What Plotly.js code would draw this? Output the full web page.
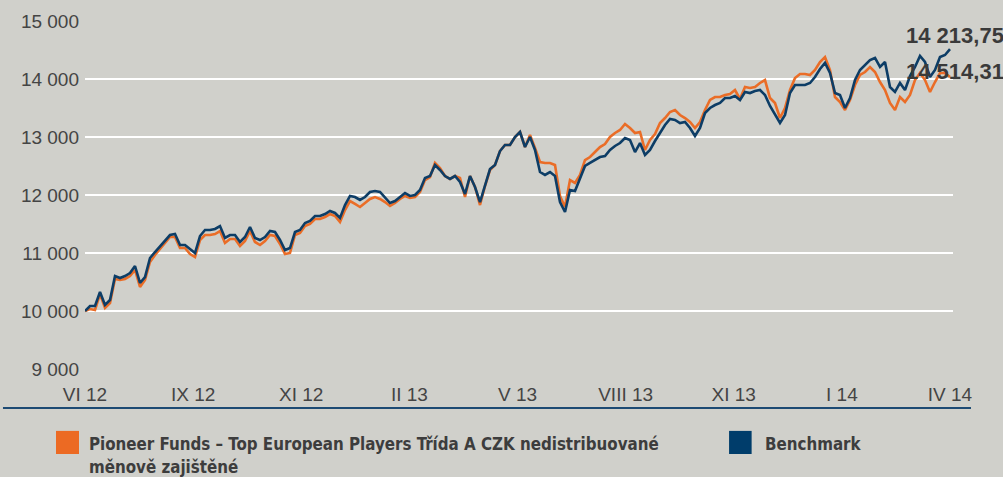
<!DOCTYPE html>
<html>
<head>
<meta charset="utf-8">
<script src="https://cdn.plot.ly/plotly-3.0.1.min.js"></script>
<style>
html,body{margin:0;padding:0;background:#d0d0cb;}
#chart{width:1003px;height:477px;}
</style>
</head>
<body>
<div id="chart"></div>
<script>
// Fund (orange) and benchmark (blue) values, sampled evenly over the period
const fundValues = [
10000,10034,10017,10293,10052,10138,10552,10534,10552,10603,
10707,10414,10534,10845,10965,11069,11172,11276,11276,11086,
11086,10983,10931,11224,11310,11310,11327,11379,11172,11241,
11241,11121,11207,11379,11190,11138,11207,11310,11293,11155,
10983,11000,11310,11345,11465,11500,11586,11586,11621,11672,
11638,11534,11741,11896,11845,11793,11862,11931,11965,11931,
11879,11810,11862,11931,11983,11948,11965,12052,12258,12310,
12552,12465,12327,12276,12327,12293,11965,12327,12138,11827,
12155,12431,12517,12758,12862,12862,13000,13086,12827,13034,
12810,12569,12552,12552,12517,11983,11793,12258,12207,12345,
12603,12655,12741,12827,12879,13000,13069,13121,13224,13155,
13069,13086,12776,12948,13051,13241,13327,13431,13465,13379,
13327,13258,13155,13258,13465,13638,13689,13689,13724,13741,
13810,13655,13862,13845,13862,13931,13982,13672,13586,13327,
13500,13810,14017,14086,14086,14069,14155,14293,14379,14155,
13689,13603,13465,13638,13896,14069,14120,14207,14120,13948,
13810,13586,13465,13689,13603,13724,13982,14103,13982,13776,
13948,14103,14103,14034
];
const benchmarkValues = [
10000,10086,10086,10328,10103,10190,10603,10569,10603,10655,
10776,10483,10586,10914,11017,11121,11224,11310,11327,11138,
11138,11069,11000,11293,11396,11396,11414,11465,11259,11310,
11310,11190,11276,11448,11259,11224,11276,11379,11362,11224,
11052,11086,11362,11396,11517,11552,11638,11638,11672,11724,
11690,11603,11827,11983,11965,11914,11965,12052,12069,12052,
11948,11862,11896,11965,12034,11983,12000,12086,12293,12327,
12517,12431,12327,12276,12327,12224,12017,12327,12138,11879,
12172,12448,12517,12758,12862,12862,13000,13086,12827,13000,
12776,12396,12345,12396,12327,11879,11707,12086,12069,12293,
12500,12552,12603,12655,12672,12776,12845,12896,12983,12948,
12741,12896,12690,12776,12931,13069,13207,13310,13293,13241,
13258,13155,13017,13155,13414,13500,13551,13586,13672,13672,
13707,13638,13776,13758,13793,13810,13724,13534,13396,13241,
13379,13758,13896,13896,13896,13931,14034,14172,14276,14103,
13758,13724,13500,13672,13982,14155,14241,14327,14362,14207,
14293,13862,13776,13931,13810,14051,14207,14396,14293,14034,
14155,14379,14413,14514
];
const tickLabels = ["VI 12","IX 12","XI 12","II 13","V 13","VIII 13","XI 13","I 14","IV 14"];
const yTicks = [9000,10000,11000,12000,13000,14000,15000];
const fundName = "Pioneer Funds – Top European Players Třída A CZK nedistribuované";
const fundName2 = "měnově zajištěné";
const benchName = "Benchmark";
const endLabels = ["14 213,75","14 514,31"];

const n = benchmarkValues.length;
const xs = benchmarkValues.map((_, i) => i);
const tickVals = tickLabels.map((_, k) => k * (n - 1) / (tickLabels.length - 1));

const ORANGE = "#ea6d27";
const BLUE = "#0d3d66";
const TXT = "#444444";
const NARROW = "'Liberation Sans Narrow', 'DejaVu Sans Condensed', Arial, sans-serif";
const SANS = "'Liberation Sans', Arial, sans-serif";

const traces = [
  {x: xs, y: fundValues, type: "scatter", mode: "lines", name: fundName,
   line: {color: ORANGE, width: 2.6}, hoverinfo: "skip"},
  {x: xs, y: benchmarkValues, type: "scatter", mode: "lines", name: benchName,
   line: {color: BLUE, width: 2.6}, hoverinfo: "skip"}
];

const layout = {
  width: 1003, height: 477,
  margin: {l: 85, r: 50, t: 20, b: 107, pad: 0},
  paper_bgcolor: "#d0d0cb",
  plot_bgcolor: "#d0d0cb",
  separators: ", ",
  showlegend: false,
  xaxis: {
    range: [0, (n - 1) + 0.6],
    tickmode: "array", tickvals: tickVals, ticktext: tickLabels,
    showgrid: false, zeroline: false, showline: false, ticks: "",
    ticklabelstandoff: 11,
    tickfont: {family: SANS, size: 19, color: TXT}
  },
  yaxis: {
    range: [8983, 15017],
    tickmode: "array", tickvals: yTicks, tickformat: ",d",
    showgrid: true, gridcolor: "#ffffff", gridwidth: 2,
    zeroline: false, showline: false, ticks: "",
    ticklabelstandoff: 5,
    tickfont: {family: SANS, size: 19, color: TXT}
  },
  shapes: [
    {type: "line", xref: "paper", yref: "paper", x0: -0.0945, x1: 1.0207, y0: -0.1086, y1: -0.1086,
     line: {color: "#1d4a73", width: 2}},
    {type: "rect", xref: "paper", yref: "paper", x0: -0.0334, x1: -0.0069, y0: -0.174, y1: -0.24,
     fillcolor: "#ec6a23", line: {width: 0}},
    {type: "rect", xref: "paper", yref: "paper", x0: 0.742, x1: 0.768, y0: -0.174, y1: -0.24,
     fillcolor: "#003d6b", line: {width: 0}}
  ],
  annotations: [
    {xref: "paper", yref: "paper", x: 0.0023, y: -0.211, xanchor: "left", yanchor: "middle",
     text: "<b>" + fundName + "</b>", showarrow: false,
     font: {family: NARROW, size: 16.8, color: "#3d3d3d"}},
    {xref: "paper", yref: "paper", x: 0.0023, y: -0.278, xanchor: "left", yanchor: "middle",
     text: "<b>" + fundName2 + "</b>", showarrow: false,
     font: {family: NARROW, size: 16.8, color: "#3d3d3d"}},
    {xref: "paper", yref: "paper", x: 0.781, y: -0.211, xanchor: "left", yanchor: "middle",
     text: "<b>" + benchName + "</b>", showarrow: false,
     font: {family: NARROW, size: 16.8, color: "#3d3d3d"}},
    {xref: "paper", yref: "paper", x: 0.9435, y: 0.957, xanchor: "left", yanchor: "middle",
     text: "<b>" + endLabels[0] + "</b>", showarrow: false,
     font: {family: SANS, size: 22, color: "#3a3a3a"}},
    {xref: "paper", yref: "paper", x: 0.9435, y: 0.853, xanchor: "left", yanchor: "middle",
     text: "<b>" + endLabels[1] + "</b>", showarrow: false,
     font: {family: SANS, size: 22, color: "#3a3a3a"}}
  ]
};

Plotly.newPlot("chart", traces, layout, {displayModeBar: false, staticPlot: true});
</script>
</body>
</html>
